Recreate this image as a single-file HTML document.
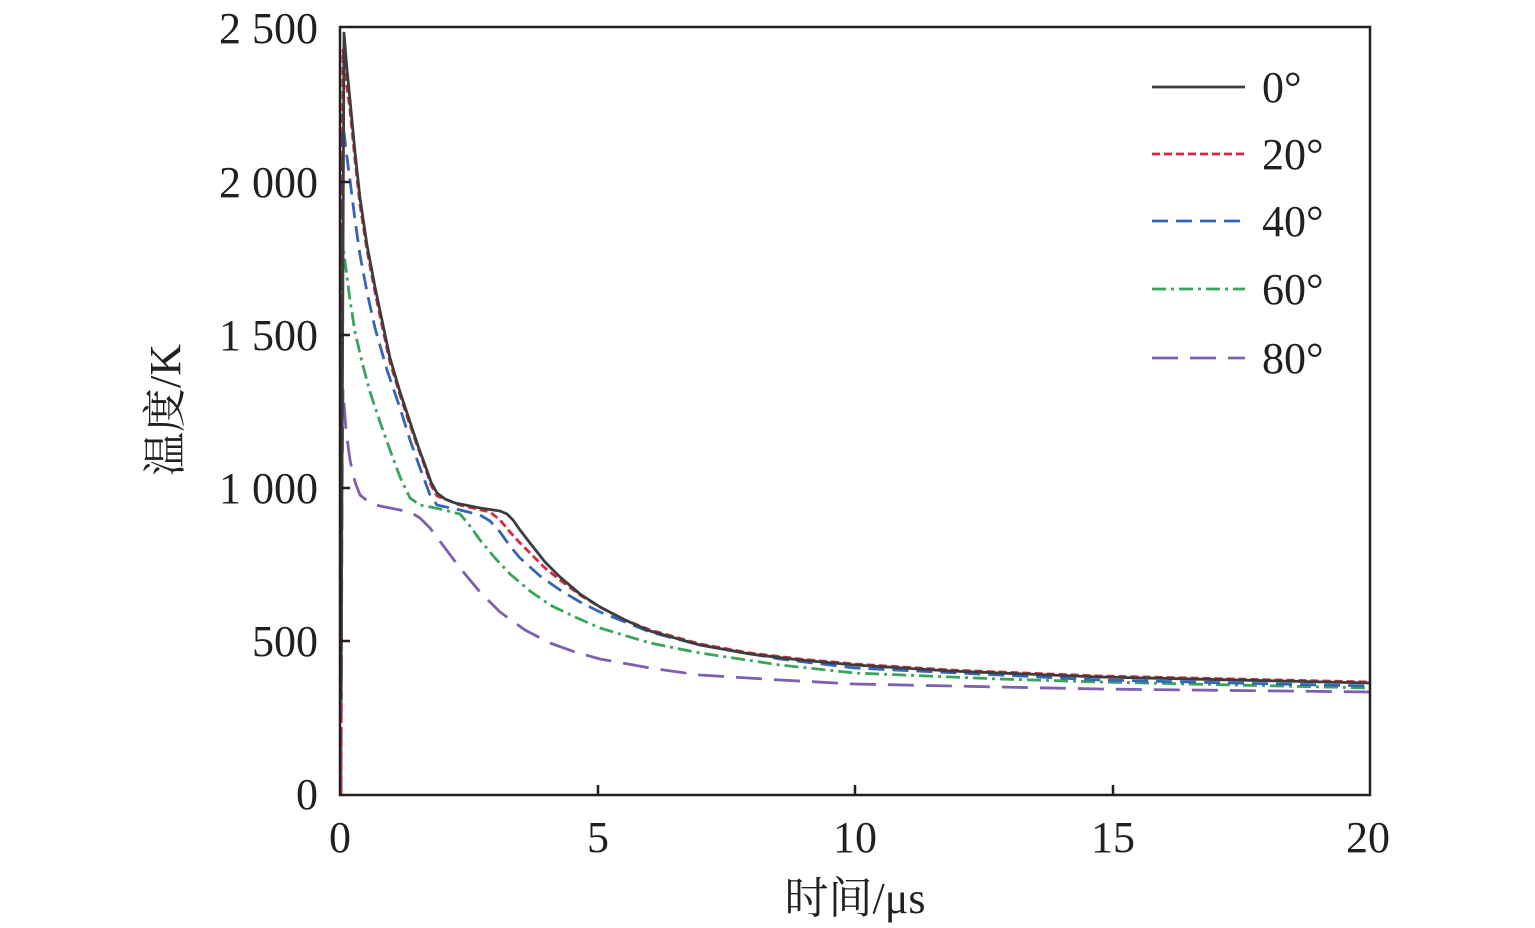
<!DOCTYPE html><html><head><meta charset="utf-8"><style>body{margin:0;background:#fff}svg{display:block}text{font-family:"Liberation Serif","Times New Roman","Noto Serif CJK SC",serif;fill:#231f20}</style></head><body>
<svg width="1535" height="928" viewBox="0 0 1535 928">
<g fill="none" stroke-width="2.8" stroke-linejoin="round">
<path stroke="#7f5fb0" stroke-dasharray="26,12" d="M341,795 L342,500 343,390 346,430 350,460 355,482 360,495 370,503 380,506 410,512 420,518 430,528 445,548 460,568 480,592 500,612 525,630 550,643 575,652 600,659 650,668 700,675 780,680 855,684 1000,687 1100,689 1370,692"/>
<path stroke="#3aa45a" stroke-dasharray="14,5,3,5" d="M341,795 L341,230 345,262 350,300 355,332 362,362 370,392 380,422 390,450 400,477 410,498 420,505 440,509 460,514 470,526 480,540 495,558 510,574 530,591 550,605 575,617 600,628 650,643 700,653 780,665 855,673 1000,679 1100,682 1370,688"/>
<path stroke="#3565b5" stroke-dasharray="16,8" d="M341,795 L342,115 346,150 350,180 355,220 360,255 367,292 375,328 387,370 400,408 410,440 420,468 430,495 437,505 460,510 480,515 490,521 500,532 510,546 520,558 540,576 560,590 580,602 600,612 650,632 700,645 780,659 855,668 1000,675 1100,680 1370,686"/>
<path stroke="#d9283a" stroke-dasharray="8,4" d="M341,795 L343,50 346,80 350,110 355,160 360,205 367,250 375,292 383,330 390,362 400,395 410,425 418,448 425,467 431,485 437,496 460,505 490,512 500,520 510,532 520,543 530,553 545,568 560,580 580,595 600,607 625,620 650,630 700,644 750,653 800,659 855,664 950,670 1100,676 1370,682"/>
<path stroke="#3d3d3d" d="M341,700 L344,33 347,70 350,100 355,152 360,198 367,245 375,287 383,325 390,358 400,392 410,422 418,446 425,465 431,482 437,493 445,499 455,503 480,508 500,511 507,514 513,520 520,530 530,543 545,562 560,577 580,594 600,607 625,620 650,631 700,645 750,654 800,660 855,665 950,671 1100,677 1370,683"/>
</g>
<rect x="340" y="27" width="1030" height="768" fill="none" stroke="#231f20" stroke-width="2.5"/>
<g stroke="#231f20" stroke-width="2.5">
<path d="M340,641h10M340,488h10M340,335h10M340,182h10M598,795v-10M855,795v-10M1113,795v-10"/>
</g>
<g font-size="44" text-anchor="end">
<text x="318" y="809">0</text><text x="318" y="656">500</text><text x="318" y="503">1 000</text><text x="318" y="350">1 500</text><text x="318" y="197">2 000</text><text x="318" y="43">2 500</text>
</g>
<g font-size="44" text-anchor="middle">
<text x="340" y="852">0</text><text x="598" y="852">5</text><text x="855" y="852">10</text><text x="1113" y="852">15</text><text x="1368" y="852">20</text>
<text x="855" y="913">时间/μs</text>
<text transform="translate(180,410) rotate(-90)">温度/K</text>
</g>
<g fill="none" stroke-width="2.8">
<path stroke="#3d3d3d" d="M1152,87h93"/>
<path stroke="#d9283a" stroke-dasharray="8,4" d="M1152,154h93"/>
<path stroke="#3565b5" stroke-dasharray="16,8" d="M1152,221h93"/>
<path stroke="#3aa45a" stroke-dasharray="14,5,3,5" d="M1152,289h93"/>
<path stroke="#7f5fb0" stroke-dasharray="26,12" d="M1152,358h93"/>
</g>
<g font-size="44">
<text x="1262" y="102">0°</text><text x="1262" y="169">20°</text><text x="1262" y="236">40°</text><text x="1262" y="304">60°</text><text x="1262" y="373">80°</text>
</g>
</svg></body></html>
